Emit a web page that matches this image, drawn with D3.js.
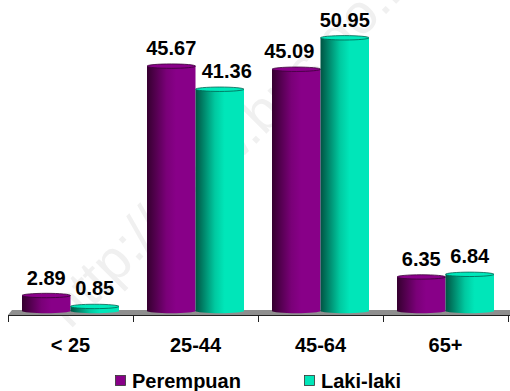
<!DOCTYPE html>
<html>
<head>
<meta charset="utf-8">
<script src="https://cdn.jsdelivr.net/npm/d3@7"></script>
<style>
  html, body { margin: 0; padding: 0; background: #fff; }
  svg { display: block; }
  text { font-family: Arial, "Liberation Sans", sans-serif; font-weight: bold; }
</style>
</head>
<body>
<script>
// Age groups and values per sex
const categories = ["< 25", "25-44", "45-64", "65+"];
const seriesNames = ["Perempuan", "Laki-laki"];
const perempuan = [2.89, 45.67, 45.09, 6.35];
const lakiLaki = [0.85, 41.36, 50.95, 6.84];
const seriesValues = [perempuan, lakiLaki];

const W = 510, H = 391;
const svg = d3.select("body").append("svg").attr("width", W).attr("height", H);

const colors = [
  { dark: "#35002f", mid: "#7a0078", light: "#880088", cap: "#8a008a", edge: "#3a0036" },
  { dark: "#005443", mid: "#00c9a0", light: "#00e6b9", cap: "#00e8bb", edge: "#00614f" }
];

const defs = svg.append("defs");
colors.forEach((c, i) => {
  const g = defs.append("linearGradient").attr("id", "grad" + i)
    .attr("x1", "0%").attr("x2", "100%").attr("y1", "0%").attr("y2", "0%");
  g.append("stop").attr("offset", "0%").attr("stop-color", c.dark);
  g.append("stop").attr("offset", "40%").attr("stop-color", c.mid);
  g.append("stop").attr("offset", "60%").attr("stop-color", c.light);
  g.append("stop").attr("offset", "100%").attr("stop-color", c.light);
});

// Faint background watermark
svg.append("text")
  .attr("transform", "translate(70,330) rotate(-45)")
  .attr("font-size", 56)
  .style("font-weight", "normal")
  .attr("fill", "#f0f0f0")
  .text("http://www.bps.go.id");

const x = d3.scaleBand().domain(categories).range([8, 508]).padding(0);
const bw = x.bandwidth();
const xs = d3.scaleBand().domain(seriesNames).range([bw * 0.112, bw * 0.888]).padding(0);
const y = d3.scaleLinear().domain([0, 58]).range([311, 0]);

// Floor
svg.append("path")
  .attr("d", "M8,315 L12,310 L510,310 L510,315 Z")
  .attr("fill", "#8f8f8f");

// Axis line and ticks at group boundaries
const axisY = 315.5;
svg.append("line").attr("x1", 8).attr("x2", 510).attr("y1", axisY).attr("y2", axisY)
  .attr("stroke", "#222").attr("stroke-width", 1);
const bounds = categories.map(c => x(c)).concat([x(categories[categories.length - 1]) + bw]);
svg.selectAll("line.tick").data(bounds).enter().append("line")
  .attr("class", "tick")
  .attr("x1", d => Math.round(d) + 0.5).attr("x2", d => Math.round(d) + 0.5)
  .attr("y1", axisY).attr("y2", 322)
  .attr("stroke", "#222");

// Cylinder bars
const capRy = 2.2;
const baseY = y(0);
seriesNames.forEach((s, si) => {
  const vals = seriesValues[si];
  const g = svg.append("g");
  categories.forEach((cat, ci) => {
    const v = vals[ci];
    const x0 = x(cat) + xs(s);
    const w = xs.bandwidth();
    const top = y(v);
    g.append("rect")
      .attr("x", x0).attr("y", top)
      .attr("width", w).attr("height", baseY - top)
      .attr("fill", `url(#grad${si})`);
    g.append("ellipse")
      .attr("cx", x0 + w / 2).attr("cy", baseY)
      .attr("rx", w / 2).attr("ry", capRy)
      .attr("fill", `url(#grad${si})`);
    g.append("ellipse")
      .attr("cx", x0 + w / 2).attr("cy", top)
      .attr("rx", w / 2).attr("ry", capRy)
      .attr("fill", colors[si].cap)
      .attr("stroke", colors[si].edge).attr("stroke-width", 0.8);
  });
});

// Value labels; a label is nudged away from a taller neighbouring bar it would touch
const labelGap = 11, nudge = 7;
seriesNames.forEach((s, si) => {
  const other = seriesValues[1 - si];
  svg.selectAll(null).data(seriesValues[si]).enter().append("text")
    .attr("x", (d, i) => {
      let cx = x(categories[i]) + xs(s) + xs.bandwidth() / 2;
      const baseline = y(d) - labelGap;
      if (y(other[i]) < baseline - 6) cx += si === 0 ? -nudge : nudge;
      return cx;
    })
    .attr("y", d => y(d) - labelGap)
    .attr("text-anchor", "middle")
    .attr("font-size", 20)
    .attr("fill", "#000")
    .text(d => d.toFixed(2));
});

// Category labels
svg.selectAll("text.cat").data(categories).enter().append("text")
  .attr("class", "cat")
  .attr("x", d => x(d) + bw / 2)
  .attr("y", 352)
  .attr("text-anchor", "middle")
  .attr("font-size", 20)
  .attr("fill", "#000")
  .text(d => d);

// Legend
const legendX = [115, 304];
seriesNames.forEach((s, si) => {
  svg.append("rect")
    .attr("x", legendX[si] + 0.5).attr("y", 375.5)
    .attr("width", 10).attr("height", 10)
    .attr("fill", si === 0 ? "#880088" : "#00e6b9")
    .attr("stroke", "#333").attr("stroke-width", 0.8);
  svg.append("text")
    .attr("x", legendX[si] + 17).attr("y", 387.5)
    .attr("font-size", 20)
    .attr("fill", "#000")
    .text(s);
});
</script>
</body>
</html>
